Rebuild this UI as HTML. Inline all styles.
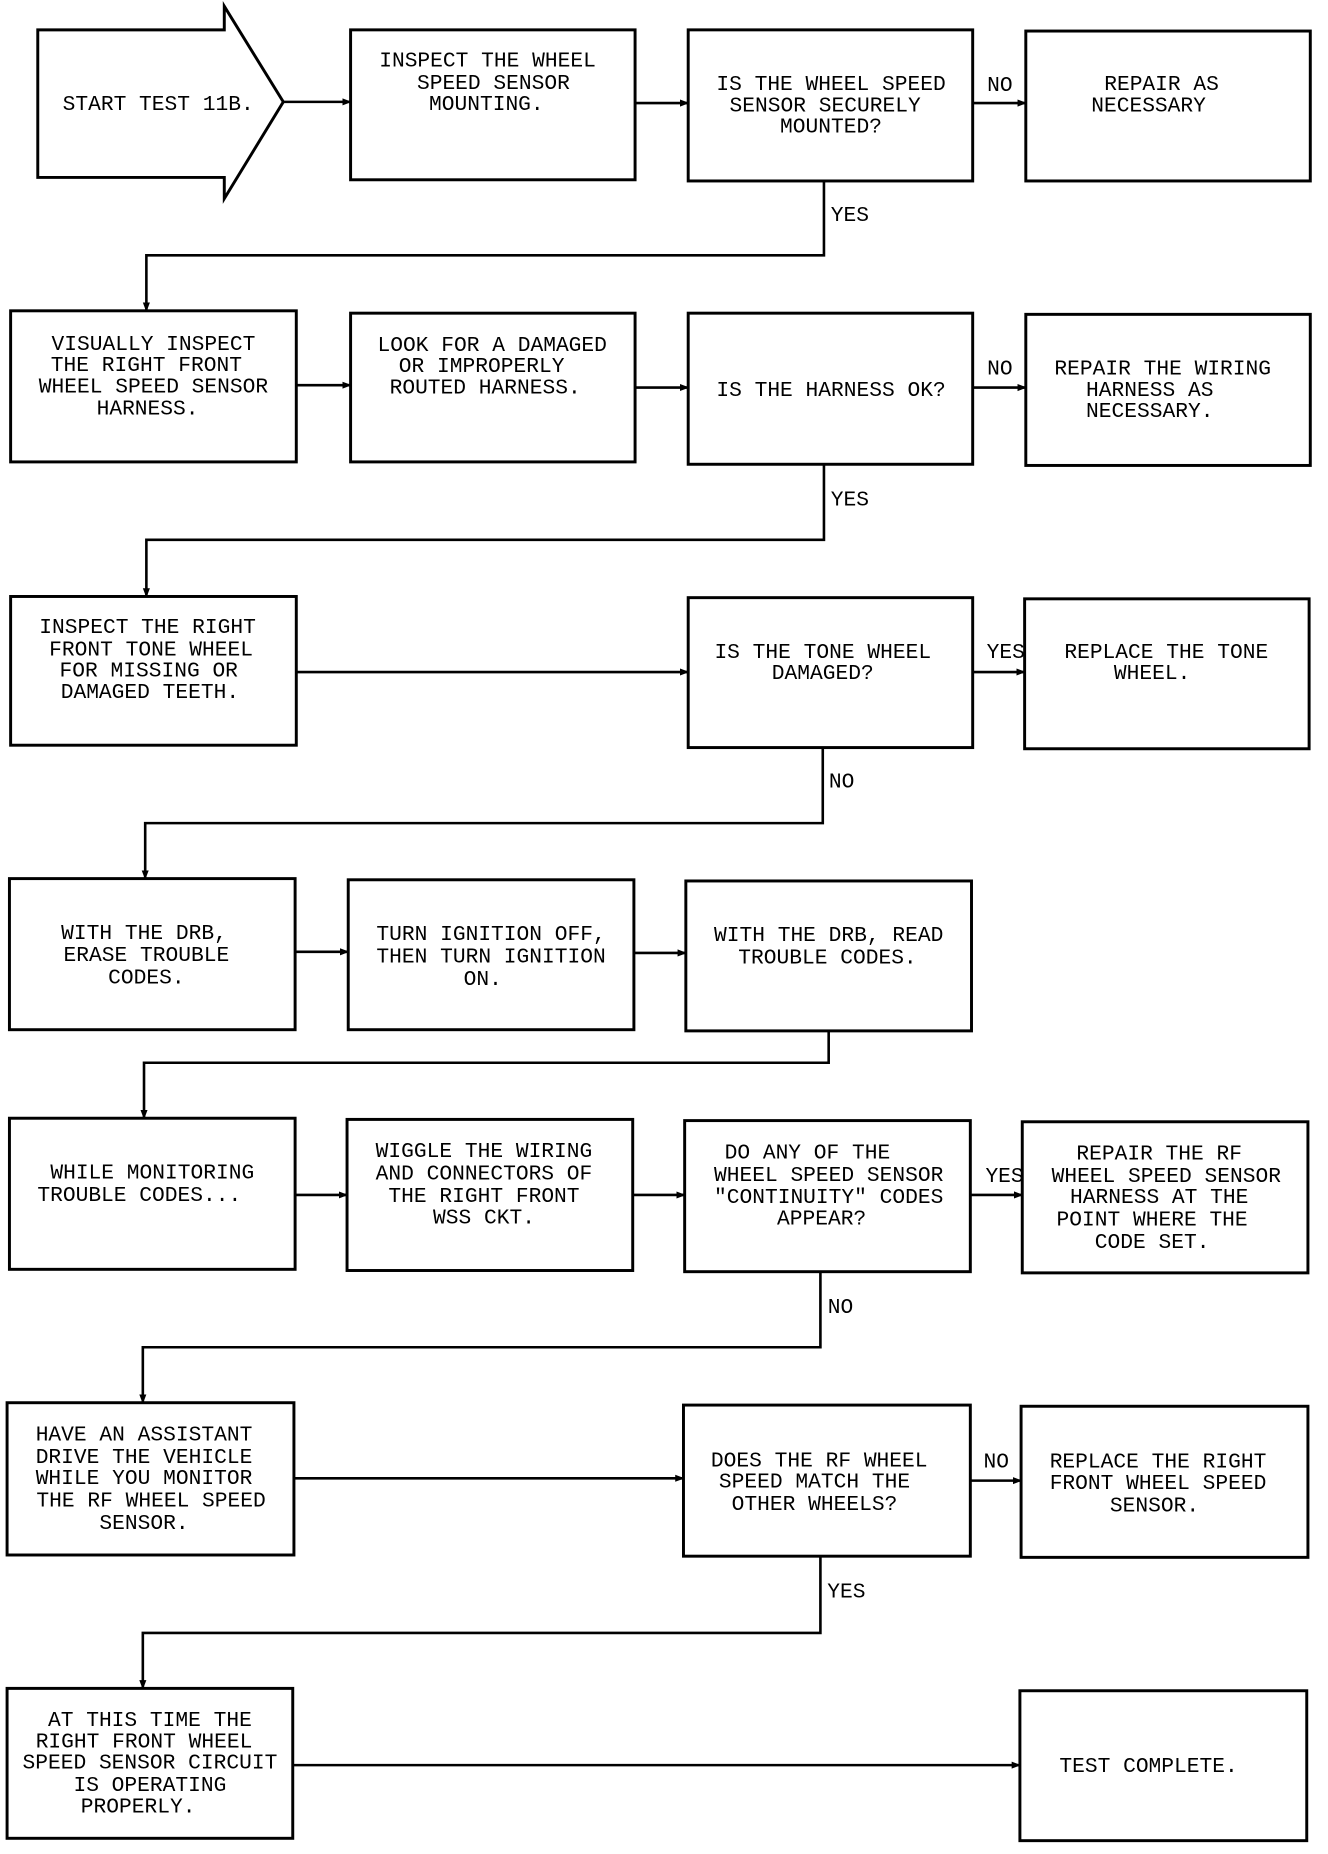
<!DOCTYPE html>
<html><head><meta charset="utf-8"><style>
html,body{margin:0;padding:0;background:#fff;}
svg{display:block;}
text{font-family:"Liberation Mono",monospace;font-size:18px;fill:#000;text-anchor:middle;}
text.l{text-anchor:start;}
</style></head><body>
<svg width="1328" height="1854" viewBox="0 0 1125 1570" xmlns="http://www.w3.org/2000/svg">
<defs><marker id="a" markerWidth="8" markerHeight="8" refX="7" refY="4" orient="auto" markerUnits="userSpaceOnUse"><path d="M0,1 L8,4 L0,7 Z" fill="#000"/></marker></defs>
<g fill="none" stroke="#000" stroke-width="2.5">
<!-- row1 -->
<path d="M32,25 H190 V5 L240,86 L190,168 V150 H32 Z"/>
<rect x="297" y="25" width="241" height="127"/>
<rect x="583" y="25" width="241" height="128"/>
<rect x="869" y="26" width="241" height="127"/>
<!-- row2 -->
<rect x="9" y="263" width="242" height="128"/>
<rect x="297" y="265" width="241" height="126"/>
<rect x="583" y="265" width="241" height="128"/>
<rect x="869" y="266" width="241" height="128"/>
<!-- row3 -->
<rect x="9" y="505" width="242" height="126"/>
<rect x="583" y="506" width="241" height="127"/>
<rect x="868" y="507" width="241" height="127"/>
<!-- row4 -->
<rect x="8" y="744" width="242" height="128"/>
<rect x="295" y="745" width="242" height="127"/>
<rect x="581" y="746" width="242" height="127"/>
<!-- row5 -->
<rect x="8" y="947" width="242" height="128"/>
<rect x="294" y="948" width="242" height="128"/>
<rect x="580" y="949" width="242" height="128"/>
<rect x="866" y="950" width="242" height="128"/>
<!-- row6 -->
<rect x="6" y="1188" width="243" height="129"/>
<rect x="579" y="1190" width="243" height="128"/>
<rect x="865" y="1191" width="243" height="128"/>
<!-- row7 -->
<rect x="6" y="1430" width="242" height="127"/>
<rect x="864" y="1432" width="243" height="127"/>
</g>
<g fill="none" stroke="#000" stroke-width="2.2" marker-end="url(#a)">
<path d="M240,86 H297"/>
<path d="M538,87 H583"/>
<path d="M824,87 H869"/>
<path d="M698,153 V216 H124 V263"/>
<path d="M251,326 H297"/>
<path d="M538,328 H583"/>
<path d="M824,328 H869"/>
<path d="M698,393 V457 H124 V505"/>
<path d="M251,569 H583"/>
<path d="M824,569 H868"/>
<path d="M697,633 V697 H123 V744"/>
<path d="M250,806 H295"/>
<path d="M537,807 H581"/>
<path d="M702,873 V900 H122 V947"/>
<path d="M250,1012 H294"/>
<path d="M536,1012 H580"/>
<path d="M822,1012 H866"/>
<path d="M695,1077 V1141 H121 V1188"/>
<path d="M249,1252 H579"/>
<path d="M822,1254 H865"/>
<path d="M695,1318 V1383 H121 V1430"/>
<path d="M248,1495 H864"/>
</g>
<!-- labels -->
<text x="847" y="77">NO</text>
<text x="720" y="187">YES</text>
<text x="847" y="317">NO</text>
<text x="720" y="428">YES</text>
<text x="852" y="557">YES</text>
<text x="713" y="667">NO</text>
<text x="851" y="1001">YES</text>
<text x="712" y="1112">NO</text>
<text x="844" y="1243">NO</text>
<text x="717" y="1353">YES</text>
<!-- row1 text -->
<text x="134" y="93">START TEST 11B.</text>
<text x="413" y="56">INSPECT THE WHEEL</text>
<text x="418" y="75">SPEED SENSOR</text>
<text x="412" y="93">MOUNTING.</text>
<text x="704" y="76">IS THE WHEEL SPEED</text>
<text x="699" y="94">SENSOR SECURELY</text>
<text x="704" y="112">MOUNTED?</text>
<text x="984" y="76">REPAIR AS</text>
<text x="973" y="94">NECESSARY</text>
<!-- row2 -->
<text x="130" y="296">VISUALLY INSPECT</text>
<text x="124" y="314">THE RIGHT FRONT</text>
<text x="130" y="332">WHEEL SPEED SENSOR</text>
<text x="125" y="351">HARNESS.</text>
<text x="417" y="297">LOOK FOR A DAMAGED</text>
<text x="408" y="315">OR IMPROPERLY</text>
<text x="411" y="333">ROUTED HARNESS.</text>
<text x="704" y="335">IS THE HARNESS OK?</text>
<text x="985" y="317">REPAIR THE WIRING</text>
<text x="974" y="335">HARNESS AS</text>
<text x="974" y="353">NECESSARY.</text>
<!-- row3 -->
<text x="125" y="536">INSPECT THE RIGHT</text>
<text x="128" y="555">FRONT TONE WHEEL</text>
<text x="126" y="573">FOR MISSING OR</text>
<text x="127" y="591">DAMAGED TEETH.</text>
<text x="697" y="557">IS THE TONE WHEEL</text>
<text x="697" y="575">DAMAGED?</text>
<text x="988" y="557">REPLACE THE TONE</text>
<text x="976" y="575">WHEEL.</text>
<!-- row4 -->
<text x="122" y="795">WITH THE DRB,</text>
<text x="124" y="814">ERASE TROUBLE</text>
<text x="124" y="833">CODES.</text>
<text x="416" y="796">TURN IGNITION OFF,</text>
<text x="416" y="815">THEN TURN IGNITION</text>
<text x="409" y="834">ON.</text>
<text x="702" y="797">WITH THE DRB, READ</text>
<text x="701" y="816">TROUBLE CODES.</text>
<!-- row5 -->
<text x="129" y="998">WHILE MONITORING</text>
<text x="118" y="1017">TROUBLE CODES...</text>
<text x="410" y="980">WIGGLE THE WIRING</text>
<text x="410" y="999">AND CONNECTORS OF</text>
<text x="410" y="1018">THE RIGHT FRONT</text>
<text x="410" y="1036">WSS CKT.</text>
<text x="684" y="981">DO ANY OF THE</text>
<text x="702" y="1000">WHEEL SPEED SENSOR</text>
<text x="702" y="1019">"CONTINUITY" CODES</text>
<text x="696" y="1037">APPEAR?</text>
<text x="982" y="982">REPAIR THE RF</text>
<text x="988" y="1001">WHEEL SPEED SENSOR</text>
<text x="982" y="1019">HARNESS AT THE</text>
<text x="976" y="1038">POINT WHERE THE</text>
<text x="976" y="1057">CODE SET.</text>
<!-- row6 -->
<text x="122" y="1220">HAVE AN ASSISTANT</text>
<text x="122" y="1239">DRIVE THE VEHICLE</text>
<text x="122" y="1257">WHILE YOU MONITOR</text>
<text x="128" y="1276">THE RF WHEEL SPEED</text>
<text x="122" y="1295">SENSOR.</text>
<text x="694" y="1242">DOES THE RF WHEEL</text>
<text x="690" y="1260">SPEED MATCH THE</text>
<text x="690" y="1279">OTHER WHEELS?</text>
<text x="981" y="1243">REPLACE THE RIGHT</text>
<text x="981" y="1261">FRONT WHEEL SPEED</text>
<text x="978" y="1280">SENSOR.</text>
<!-- row7 -->
<text x="127" y="1462">AT THIS TIME THE</text>
<text x="122" y="1480">RIGHT FRONT WHEEL</text>
<text x="127" y="1498">SPEED SENSOR CIRCUIT</text>
<text x="127" y="1517">IS OPERATING</text>
<text x="117" y="1535">PROPERLY.</text>
<text x="973" y="1501">TEST COMPLETE.</text>
</svg>
</body></html>
